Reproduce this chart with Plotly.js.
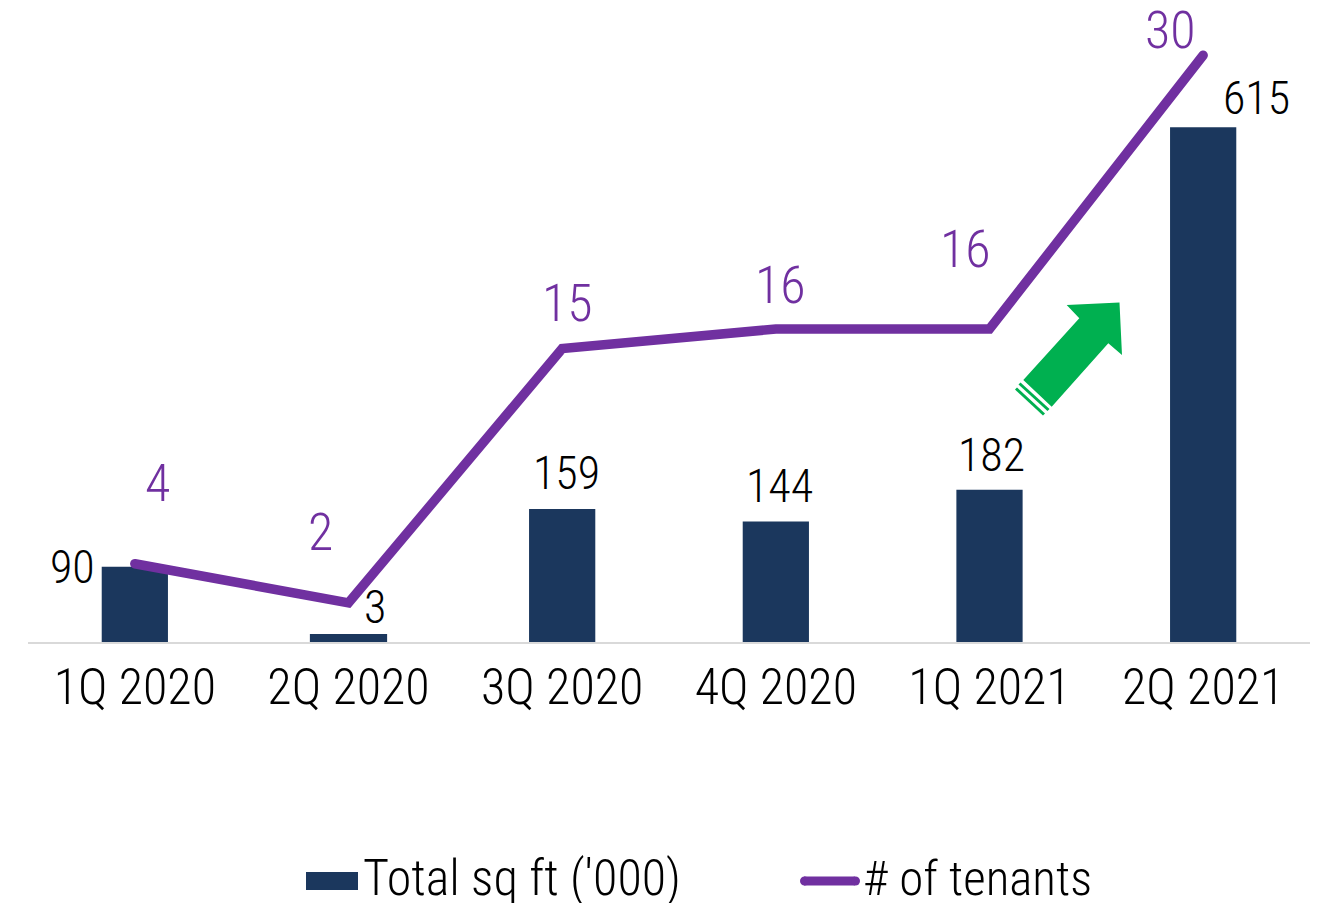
<!DOCTYPE html>
<html>
<head>
<meta charset="utf-8">
<script src="https://cdn.plot.ly/plotly-3.0.1.min.js"></script>
<style>html,body{margin:0;padding:0;background:#fff;}#chart{width:1322px;height:903px;}
.scatterlayer .js-line{stroke-linecap:round;}</style>
</head>
<body>
<div id="chart"></div>
<script>
// ---- data ----
const categories = ['1Q 2020', '2Q 2020', '3Q 2020', '4Q 2020', '1Q 2021', '2Q 2021'];
const sqft = [90, 3, 159, 144, 182, 615];
const tenants = [4, 2, 15, 16, 16, 30];
const seriesNames = ["Total sq ft ('000)", '# of tenants'];

// ---- styling / layout ----
const FONT = "'Roboto Condensed', 'DejaVu Sans Condensed', sans-serif";
const WEIGHT = 300;
const BAR_COLOR = '#1b375d';
const LINE_COLOR = '#7030a0';
const ARROW_COLOR = '#00b050';
const W = 1322, H = 903;
const M = {l: 28, r: 12, t: 20, b: 261};
const PW = W - M.l - M.r, PH = H - M.t - M.b;
const px = X => (X - M.l) / PW;
const py = Y => (H - M.b - Y) / PH;

// label offsets (pixels) relative to each data point
const barLabelShift = [[-62, 0], [26, 32], [4, 36], [4, 35], [2, 35], [53, 29]];
const lineLabelShift = [[23, 80], [-28, 70], [5, 45], [5, 44], [-24, 80], [-33, 25]];

const barTrace = {
  type: 'bar', x: categories, y: sqft, name: seriesNames[0],
  marker: {color: BAR_COLOR, line: {color: BAR_COLOR, width: sqft.map(v => v < 10 ? 11 : 0)}},
  width: 0.31, yaxis: 'y', showlegend: false, hoverinfo: 'x+y'
};
const lineTrace = {
  type: 'scatter', mode: 'lines', x: categories, y: tenants, name: seriesNames[1],
  line: {color: LINE_COLOR, width: 9.5}, yaxis: 'y2', showlegend: false, cliponaxis: false
};

const annotations = [];
categories.forEach((c, i) => {
  annotations.push({x: c, y: sqft[i], xref: 'x', yref: 'y', text: String(sqft[i]), showarrow: false,
    xshift: barLabelShift[i][0], yshift: barLabelShift[i][1], xanchor: 'center', yanchor: 'middle',
    font: {family: FONT, size: 46, weight: WEIGHT, color: '#000'}});
  annotations.push({x: c, y: tenants[i], xref: 'x', yref: 'y2', text: String(tenants[i]), showarrow: false,
    xshift: lineLabelShift[i][0], yshift: lineLabelShift[i][1], xanchor: 'center', yanchor: 'middle',
    font: {family: FONT, size: 52, weight: WEIGHT, color: LINE_COLOR}});
});
// legend text
annotations.push({xref: 'paper', yref: 'paper', x: px(361), y: py(878), text: seriesNames[0], showarrow: false,
  xanchor: 'left', yanchor: 'middle', font: {family: FONT, size: 50, weight: WEIGHT, color: '#000'}});
annotations.push({xref: 'paper', yref: 'paper', x: px(861), y: py(878), text: seriesNames[1], showarrow: false,
  xanchor: 'left', yanchor: 'middle', font: {family: FONT, size: 49, weight: WEIGHT, color: '#000'}});

function pathOf(pts) {
  return 'M' + pts.map(p => px(p[0]).toFixed(5) + ',' + py(p[1]).toFixed(5)).join(' L') + ' Z';
}
const arrowPts = [[1119.5, 302.5], [1122, 355], [1108.3, 343.3], [1051.7, 406.7], [1023.3, 380], [1079.3, 318.3], [1066.7, 305]];

const shapes = [
  // legend symbols
  {type: 'rect', xref: 'paper', yref: 'paper', x0: px(306), x1: px(358), y0: py(872), y1: py(890),
    fillcolor: BAR_COLOR, line: {width: 0}},
  {type: 'line', xref: 'paper', yref: 'paper', x0: px(804), x1: px(855), y0: py(881), y1: py(881),
    line: {color: LINE_COLOR, width: 9}},
  {type: 'circle', xref: 'paper', yref: 'paper', x0: px(800), x1: px(809), y0: py(876.5), y1: py(885.5),
    fillcolor: LINE_COLOR, line: {width: 0}},
  {type: 'circle', xref: 'paper', yref: 'paper', x0: px(851), x1: px(860), y0: py(876.5), y1: py(885.5),
    fillcolor: LINE_COLOR, line: {width: 0}},
  // green arrow
  {type: 'path', xref: 'paper', yref: 'paper', path: pathOf(arrowPts), fillcolor: ARROW_COLOR, line: {width: 0}},
  {type: 'line', xref: 'paper', yref: 'paper', x0: px(1019.5), y0: py(383.5), x1: px(1048.5), y1: py(410),
    line: {color: ARROW_COLOR, width: 3}},
  {type: 'line', xref: 'paper', yref: 'paper', x0: px(1016), y0: py(388.5), x1: px(1044), y1: py(414.5),
    line: {color: ARROW_COLOR, width: 3}}
];

const layout = {
  width: W, height: H, margin: M,
  paper_bgcolor: '#fff', plot_bgcolor: '#fff',
  font: {family: FONT, weight: WEIGHT, color: '#000'},
  showlegend: false,
  xaxis: {type: 'category', showgrid: false, zeroline: false, showline: true, linecolor: '#d9d9d9', linewidth: 2,
    layer: 'below traces', ticks: '', ticklabelstandoff: 0,
    tickfont: {family: FONT, size: 50, weight: WEIGHT, color: '#000'}, fixedrange: true},
  yaxis: {range: [0, 743], visible: false, showgrid: false, zeroline: false, fixedrange: true},
  yaxis2: {range: [0, 31.8], overlaying: 'y', side: 'right', visible: false, showgrid: false, zeroline: false, fixedrange: true},
  bargap: 0.69,
  annotations: annotations,
  shapes: shapes
};

Plotly.newPlot('chart', [barTrace, lineTrace], layout, {displayModeBar: false, staticPlot: true});
</script>
</body>
</html>
